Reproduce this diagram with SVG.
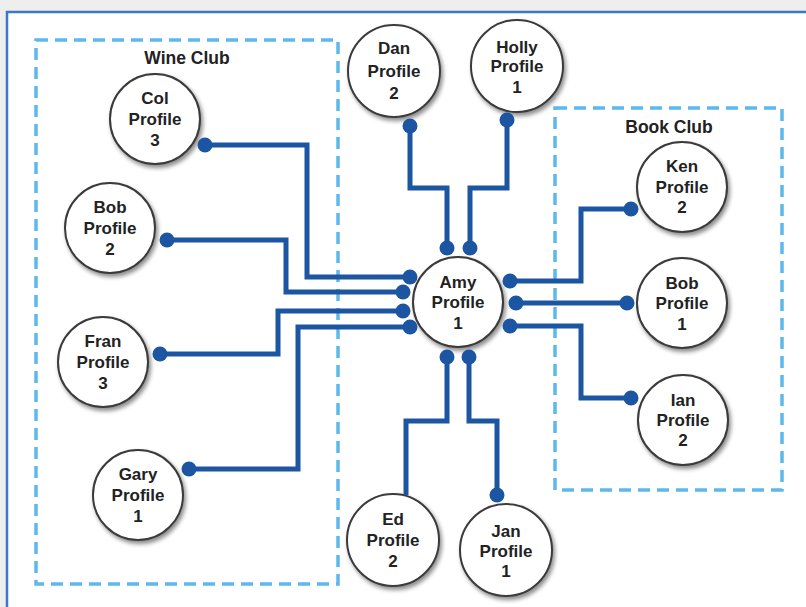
<svg xmlns="http://www.w3.org/2000/svg" width="806" height="607" viewBox="0 0 806 607">
<style>
.club{fill:none;stroke:#5db8ec;stroke-width:3.5;stroke-dasharray:12 7}
.clabel{font-family:"Liberation Sans",Arial,sans-serif;font-weight:bold;font-size:17.5px;fill:#222;text-anchor:middle}
.node circle{fill:#fff;stroke:#3a3a3a;stroke-width:2;filter:url(#sh)}
.node text{font-family:"Liberation Sans",Arial,sans-serif;font-weight:bold;font-size:17px;fill:#222;text-anchor:middle}
.conn path{fill:none;stroke:#1c55a2;stroke-width:5;stroke-linejoin:miter}
.conn circle{fill:#1c55a2}
</style>
<defs>
<filter id="sh" x="-20%" y="-20%" width="150%" height="150%">
<feDropShadow dx="2" dy="3" stdDeviation="2" flood-color="#000" flood-opacity="0.45"/>
</filter>
</defs>
<rect x="0" y="0" width="806" height="607" fill="#eeeeee"/>
<rect x="7" y="12" width="815" height="610" fill="#fff" stroke="#3b78c6" stroke-width="2.5"/>
<g id="wine-club">
<rect class="club" x="36" y="40" width="302" height="544"/>
<text class="clabel" x="187" y="64">Wine Club</text>
</g>
<g id="book-club">
<rect class="club" x="555" y="108" width="227" height="382"/>
<text class="clabel" x="669" y="133">Book Club</text>
</g>
<g id="col" class="node"><circle cx="155" cy="119" r="45"/><text x="155" y="104">Col</text><text x="155" y="125">Profile</text><text x="155" y="146">3</text></g>
<g id="bob2" class="node"><circle cx="110" cy="228" r="45"/><text x="110" y="213">Bob</text><text x="110" y="234">Profile</text><text x="110" y="255">2</text></g>
<g id="fran" class="node"><circle cx="103" cy="362" r="45"/><text x="103" y="347">Fran</text><text x="103" y="368">Profile</text><text x="103" y="389">3</text></g>
<g id="gary" class="node"><circle cx="138" cy="495" r="45"/><text x="138" y="480">Gary</text><text x="138" y="501">Profile</text><text x="138" y="522">1</text></g>
<g id="dan" class="node"><circle cx="394" cy="71" r="46"/><text x="394" y="54">Dan</text><text x="394" y="77">Profile</text><text x="394" y="99">2</text></g>
<g id="holly" class="node"><circle cx="517" cy="66" r="46"/><text x="517" y="53">Holly</text><text x="517" y="72">Profile</text><text x="517" y="93">1</text></g>
<g id="ken" class="node"><circle cx="682" cy="187" r="45"/><text x="682" y="172">Ken</text><text x="682" y="193">Profile</text><text x="682" y="213">2</text></g>
<g id="bob1" class="node"><circle cx="682" cy="303" r="45"/><text x="682" y="289">Bob</text><text x="682" y="309">Profile</text><text x="682" y="330">1</text></g>
<g id="ian" class="node"><circle cx="683" cy="420" r="45"/><text x="683" y="406">Ian</text><text x="683" y="426">Profile</text><text x="683" y="446">2</text></g>
<g id="ed" class="node"><circle cx="393" cy="540" r="46"/><text x="393" y="525">Ed</text><text x="393" y="546">Profile</text><text x="393" y="567">2</text></g>
<g id="jan" class="node"><circle cx="506" cy="550" r="46"/><text x="506" y="537">Jan</text><text x="506" y="557">Profile</text><text x="506" y="577">1</text></g>
<g id="amy" class="node"><circle cx="458" cy="302" r="45"/><text x="458" y="288">Amy</text><text x="458" y="308">Profile</text><text x="458" y="329">1</text></g>
<g id="connectors" class="conn">
<path d="M205,145 H307 V277 H410"/>
<path d="M167,240 H286 V292 H403"/>
<path d="M160,354 H278 V311 H403"/>
<path d="M189,469 H298 V327 H410"/>
<path d="M410,126 V188 H447 V248"/>
<path d="M507,120 V188 H470 V248"/>
<path d="M631,209 H581 V281 H510"/>
<path d="M516,303 H627"/>
<path d="M510,326 H581 V398 H631"/>
<path d="M447,357 V421 H406 V495"/>
<path d="M469,357 V421 H497 V495"/>
<circle cx="205" cy="145" r="7.5"/><circle cx="410" cy="277" r="7.5"/>
<circle cx="167" cy="240" r="7.5"/><circle cx="403" cy="292" r="7.5"/>
<circle cx="160" cy="354" r="7.5"/><circle cx="403" cy="311" r="7.5"/>
<circle cx="189" cy="469" r="7.5"/><circle cx="410" cy="327" r="7.5"/>
<circle cx="410" cy="126" r="7.5"/><circle cx="447" cy="248" r="7.5"/>
<circle cx="507" cy="120" r="7.5"/><circle cx="470" cy="248" r="7.5"/>
<circle cx="631" cy="209" r="7.5"/><circle cx="510" cy="281" r="7.5"/>
<circle cx="516" cy="303" r="7.5"/><circle cx="627" cy="303" r="7.5"/>
<circle cx="510" cy="326" r="7.5"/><circle cx="631" cy="398" r="7.5"/>
<circle cx="447" cy="357" r="7.5"/><circle cx="469" cy="357" r="7.5"/>
<circle cx="497" cy="495" r="7.5"/>
</g>
</svg>
